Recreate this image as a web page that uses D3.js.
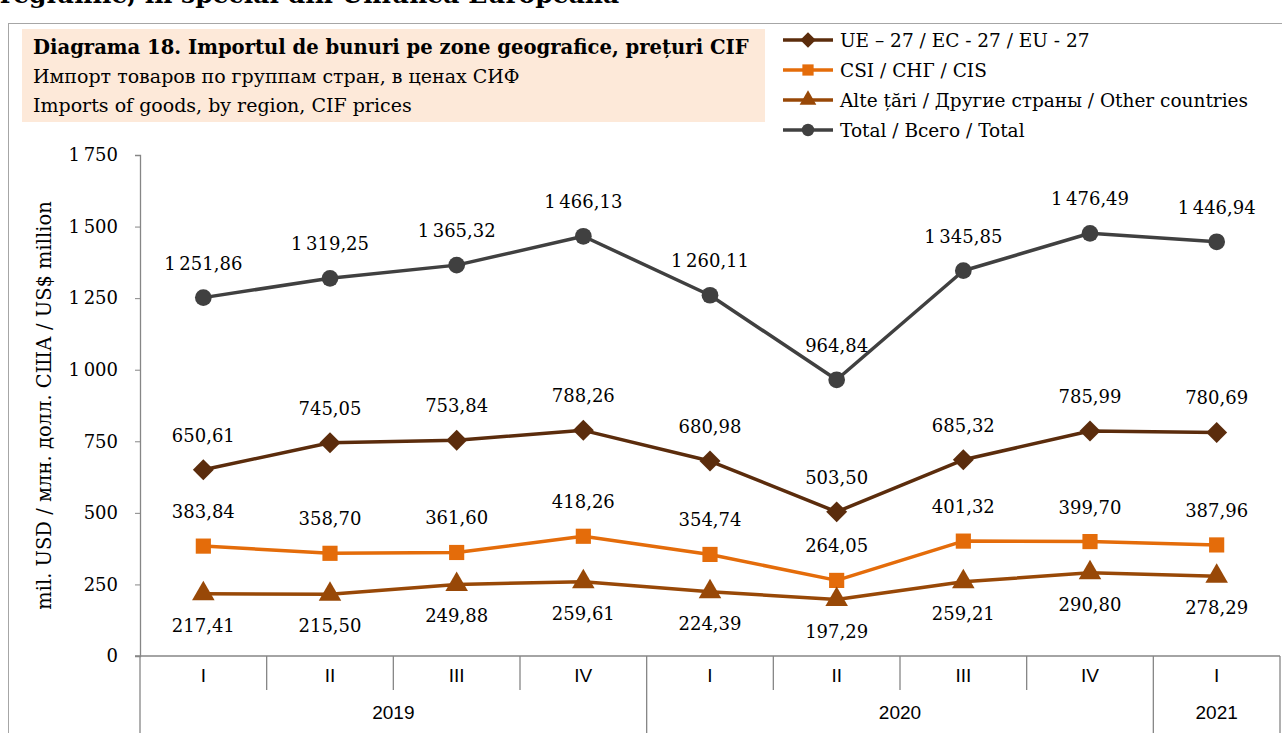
<!DOCTYPE html>
<html>
<head>
<meta charset="utf-8">
<script src="https://cdn.jsdelivr.net/npm/d3@7"></script>
<style>
  body { margin: 0; background: #fff; }
  text { font-family: "DejaVu Serif", serif; fill: #000; }
</style>
</head>
<body>
<svg id="chart"></svg>
<script>
var width = 1282, height = 733;
var svg = d3.select("#chart").attr("width", width).attr("height", height);

// data
var quarters = ["I", "II", "III", "IV", "I", "II", "III", "IV", "I"];
var years = [{ name: "2019", from: 0, to: 4 }, { name: "2020", from: 4, to: 8 }, { name: "2021", from: 8, to: 9 }];
var euValues = [650.61, 745.05, 753.84, 788.26, 680.98, 503.50, 685.32, 785.99, 780.69];
var cisValues = [383.84, 358.70, 361.60, 418.26, 354.74, 264.05, 401.32, 399.70, 387.96];
var otherValues = [217.41, 215.50, 249.88, 259.61, 224.39, 197.29, 259.21, 290.80, 278.29];
var totalValues = [1251.86, 1319.25, 1365.32, 1466.13, 1260.11, 964.84, 1345.85, 1476.49, 1446.94];
var yTicks = [0, 250, 500, 750, 1000, 1250, 1500, 1750];

var series = [
  { name: "UE – 27 / EC - 27 / EU - 27", values: euValues, color: "#5b2c0c", marker: d3.symbolDiamond2, size: 280, labelPos: "above" },
  { name: "CSI / СНГ / CIS", values: cisValues, color: "#e46c0a", marker: d3.symbolSquare, size: 230, labelPos: "above" },
  { name: "Alte țări / Другие страны / Other countries", values: otherValues, color: "#984807", marker: d3.symbolTriangle, size: 220, labelPos: "below" },
  { name: "Total / Всего / Total", values: totalValues, color: "#404040", marker: d3.symbolCircle, size: 220, labelPos: "above" }
];

var locale = d3.formatLocale({ decimal: ",", thousands: "\u2009", grouping: [3], currency: ["", ""] });
var fmtVal = locale.format(",.2f");
var fmtTick = locale.format(",");

var plotLeft = 140, plotRight = 1280, plotTop = 155, plotBottom = 656;
var x = d3.scaleBand().domain(d3.range(quarters.length)).range([plotLeft, plotRight]).padding(0);
var y = d3.scaleLinear().domain([0, 1750]).range([plotBottom, plotTop]);
var cx = function (i) { return x(i) + x.bandwidth() / 2; };

// cut heading from the page above
svg.append("text").attr("x", 0).attr("y", 3)
  .style("font-size", "25px").style("font-weight", "bold")
  .text("regiunile, în special din Uniunea Europeană");

// frame
svg.append("rect").attr("x", 8.5).attr("y", 23.5).attr("width", 1400).attr("height", 800)
  .attr("fill", "none").attr("stroke", "#a6a6a6");

// title box
svg.append("rect").attr("x", 22).attr("y", 29).attr("width", 743).attr("height", 93).attr("fill", "#fde9d9");
var titles = ["Diagrama 18. Importul de bunuri pe zone geografice, prețuri CIF",
  "Импорт товаров по группам стран, в ценах СИФ",
  "Imports of goods, by region, CIF prices"];
titles.forEach(function (t, i) {
  svg.append("text").attr("x", 33).attr("y", 54 + i * 29)
    .style("font-size", i == 0 ? "19.6px" : "19px").style("font-weight", i == 0 ? "bold" : "normal")
    .text(t);
});

// y axis
var yAxis = svg.append("g").attr("transform", "translate(" + plotLeft + ",0)")
  .call(d3.axisLeft(y).tickValues(yTicks).tickSize(5).tickPadding(17).tickFormat(fmtTick));
yAxis.select(".domain").attr("stroke", "#868686").attr("stroke-width", 1.3);
yAxis.selectAll(".tick line").attr("stroke", "#868686");
yAxis.selectAll(".tick text").style("font-size", "18px").style("font-family", "DejaVu Serif, serif");

svg.append("text")
  .attr("transform", "translate(51," + y(875) + ") rotate(-90)")
  .attr("text-anchor", "middle")
  .style("font-size", "19.5px")
  .text("mil. USD / млн. долл. США / US$ million");

// x axis
svg.append("line").attr("x1", plotLeft - 5).attr("x2", plotRight).attr("y1", plotBottom).attr("y2", plotBottom)
  .attr("stroke", "#868686").attr("stroke-width", 1.3);
var yearBounds = [0];
years.forEach(function (yr) { yearBounds.push(yr.to); });
d3.range(quarters.length + 1).forEach(function (i) {
  var xx = i < quarters.length ? x(i) : plotRight;
  var isYear = yearBounds.indexOf(i) >= 0;
  svg.append("line").attr("x1", xx).attr("x2", xx).attr("y1", plotBottom).attr("y2", isYear ? height : 690)
    .attr("stroke", "#868686").attr("stroke-width", 1.3);
});
svg.selectAll(".qlabel").data(quarters).enter().append("text")
  .attr("x", function (d, i) { return cx(i); }).attr("y", 682)
  .attr("text-anchor", "middle").style("font-size", "19px")
  .style("font-family", "'Liberation Sans Narrow', 'Liberation Sans', sans-serif")
  .text(function (d) { return d; });
svg.selectAll(".ylabel").data(years).enter().append("text")
  .attr("x", function (d) { return (x(d.from) + (d.to < quarters.length ? x(d.to) : plotRight)) / 2; })
  .attr("y", 719).attr("text-anchor", "middle").style("font-size", "19px")
  .style("font-family", "'Liberation Sans Narrow', 'Liberation Sans', sans-serif")
  .text(function (d) { return d.name; });

// lines, markers, labels
var line = d3.line().x(function (d, i) { return cx(i); }).y(function (d) { return y(d); });
series.forEach(function (s) {
  var g = svg.append("g");
  g.append("path").attr("d", line(s.values)).attr("fill", "none")
    .attr("stroke", s.color).attr("stroke-width", 3.5).attr("stroke-linejoin", "round");
  g.selectAll("path.m").data(s.values).enter().append("path").attr("class", "m")
    .attr("transform", function (d, i) { return "translate(" + cx(i) + "," + y(d) + ")"; })
    .attr("d", d3.symbol().type(s.marker).size(s.size)).attr("fill", s.color);
  g.selectAll("text").data(s.values).enter().append("text")
    .attr("x", function (d, i) { return cx(i); })
    .attr("y", function (d) { return s.labelPos == "above" ? y(d) - 28 : y(d) + 38; })
    .attr("text-anchor", "middle").style("font-size", "18px")
    .text(function (d) { return fmtVal(d); });
});

// legend
var legend = svg.append("g").attr("transform", "translate(783,40)");
series.forEach(function (s, i) {
  var row = legend.append("g").attr("transform", "translate(0," + i * 30 + ")");
  row.append("line").attr("x1", 0).attr("x2", 50).attr("stroke", s.color).attr("stroke-width", 3.5);
  row.append("path").attr("transform", "translate(25,0)")
    .attr("d", d3.symbol().type(s.marker).size(s.size * 0.55)).attr("fill", s.color);
  row.append("text").attr("x", 57).attr("y", 7).style("font-size", "18.5px").text(s.name);
});
</script>
</body>
</html>
